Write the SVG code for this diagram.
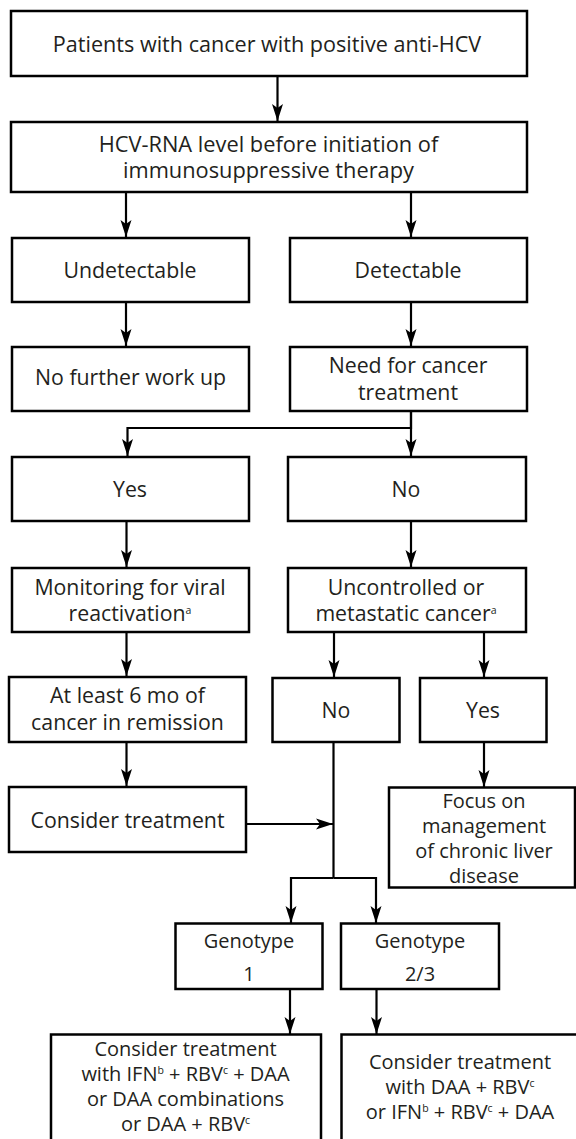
<svg xmlns="http://www.w3.org/2000/svg" width="576" height="1139" viewBox="0 0 576 1139">
<style>
.box{fill:#fff;stroke:#000;stroke-width:2.5}
.t{font-family:"Open Sans","Noto Sans","DejaVu Sans",sans-serif;font-size:21.3px;fill:#231f20;text-anchor:middle}
.s{font-size:20px}
.sup{font-size:10.5px}
.c{fill:none;stroke:#000;stroke-width:2.2}
.a{marker-end:url(#ah)}
</style>
<defs>
<marker id="ah" viewBox="0 0 17 12" markerUnits="userSpaceOnUse" markerWidth="17" markerHeight="12" refX="17" refY="6" orient="auto">
<path d="M17,6 L0,0.5 L4,6 L0,11.5 Z" fill="#000"/>
</marker>
</defs>
<rect width="576" height="1139" fill="#fff"/>
<g id="connectors">
<line class="c a" x1="277.5" y1="76" x2="277.5" y2="121"/>
<line class="c a" x1="126" y1="192" x2="126" y2="237"/>
<line class="c a" x1="411" y1="192" x2="411" y2="237"/>
<line class="c a" x1="126" y1="302" x2="126" y2="346"/>
<line class="c a" x1="411" y1="302" x2="411" y2="346"/>
<polyline class="c a" points="411,411 411,428 127.5,428 127.5,456"/>
<line class="c a" x1="411" y1="411" x2="411" y2="456"/>
<line class="c a" x1="126.5" y1="521" x2="126.5" y2="567"/>
<line class="c a" x1="411" y1="521" x2="411" y2="567"/>
<line class="c a" x1="126.5" y1="632" x2="126.5" y2="676"/>
<line class="c a" x1="334" y1="632" x2="334" y2="677"/>
<line class="c a" x1="484" y1="632" x2="484" y2="677"/>
<line class="c a" x1="126.5" y1="742" x2="126.5" y2="786"/>
<line class="c a" x1="246" y1="824" x2="333" y2="824"/>
<polyline class="c" points="333.5,742 333.5,878"/>
<polyline class="c a" points="333.5,878 291,878 291,923"/>
<polyline class="c a" points="333.5,878 376,878 376,923"/>
<line class="c a" x1="484" y1="742" x2="484" y2="787"/>
<line class="c a" x1="290" y1="989" x2="290" y2="1034"/>
<line class="c a" x1="376.5" y1="989" x2="376.5" y2="1034"/>
</g>
<g id="n1"><rect class="box" x="11" y="11" width="516" height="65"/>
<text class="t" x="267" y="52" style="font-size:21.6px">Patients with cancer with positive anti-HCV</text></g>
<g id="n2"><rect class="box" x="11" y="122" width="516" height="70"/>
<text class="t" x="268.5" y="152" style="font-size:21.8px">HCV-RNA level before initiation of</text>
<text class="t" x="268.5" y="178" style="font-size:21.8px">immunosuppressive therapy</text></g>
<g id="n3"><rect class="box" x="12" y="238" width="237" height="64"/>
<text class="t" x="130" y="277.5">Undetectable</text></g>
<g id="n4"><rect class="box" x="290" y="238" width="237" height="64"/>
<text class="t" x="408" y="277.5">Detectable</text></g>
<g id="n5"><rect class="box" x="12" y="347" width="237" height="64"/>
<text class="t" x="130.5" y="385">No further work up</text></g>
<g id="n6"><rect class="box" x="290" y="347" width="237" height="64"/>
<text class="t" x="408" y="373">Need for cancer</text>
<text class="t" x="408" y="400">treatment</text></g>
<g id="n7"><rect class="box" x="12" y="457" width="237" height="64"/>
<text class="t" x="130" y="496.5">Yes</text></g>
<g id="n8"><rect class="box" x="288" y="457" width="238" height="64"/>
<text class="t" x="406" y="496.5">No</text></g>
<g id="n9"><rect class="box" x="12" y="568" width="237" height="64"/>
<text class="t" x="130" y="595">Monitoring for viral</text>
<text class="t" x="130" y="621">reactivation<tspan class="sup" dy="-7">a</tspan></text></g>
<g id="n10"><rect class="box" x="288" y="568" width="238" height="64"/>
<text class="t" x="406" y="595">Uncontrolled or</text>
<text class="t" x="406" y="621">metastatic cancer<tspan class="sup" dy="-7">a</tspan></text></g>
<g id="n11"><rect class="box" x="9" y="677" width="237" height="65"/>
<text class="t" x="127.5" y="703">At least 6 mo of</text>
<text class="t" x="127.5" y="730">cancer in remission</text></g>
<g id="n12"><rect class="box" x="272.5" y="678" width="127" height="64"/>
<text class="t" x="336" y="717.5">No</text></g>
<g id="n13"><rect class="box" x="420" y="678" width="126.5" height="64"/>
<text class="t" x="483" y="717.5">Yes</text></g>
<g id="n14"><rect class="box" x="9" y="787" width="237" height="65"/>
<text class="t" x="127.5" y="828">Consider treatment</text></g>
<g id="n15"><rect class="box" x="389" y="787.5" width="186" height="100"/>
<text class="t s" x="484" y="807.5">Focus on</text>
<text class="t s" x="484" y="832.5">management</text>
<text class="t s" x="484" y="858">of chronic liver</text>
<text class="t s" x="484" y="882.5">disease</text></g>
<g id="n16"><rect class="box" x="175.5" y="923.5" width="147" height="65.5"/>
<text class="t s" x="249" y="948">Genotype</text>
<text class="t s" x="249" y="980.5">1</text></g>
<g id="n17"><rect class="box" x="341" y="923.5" width="158" height="65.5"/>
<text class="t s" x="420" y="948">Genotype</text>
<text class="t s" x="420" y="980.5">2/3</text></g>
<g id="n18"><rect class="box" x="51" y="1034.5" width="270" height="120"/>
<text class="t s" x="185.5" y="1055.5">Consider treatment</text>
<text class="t s" x="185.5" y="1080.5">with IFN<tspan class="sup" dy="-7">b</tspan><tspan dy="7"> + RBV</tspan><tspan class="sup" dy="-7">c</tspan><tspan dy="7"> + DAA</tspan></text>
<text class="t s" x="185.5" y="1106">or DAA combinations</text>
<text class="t s" x="185.5" y="1131">or DAA + RBV<tspan class="sup" dy="-7">c</tspan></text></g>
<g id="n19"><rect class="box" x="341.5" y="1034.5" width="250" height="120"/>
<text class="t s" x="460" y="1069">Consider treatment</text>
<text class="t s" x="460" y="1094">with DAA + RBV<tspan class="sup" dy="-7">c</tspan></text>
<text class="t s" x="460" y="1119">or IFN<tspan class="sup" dy="-7">b</tspan><tspan dy="7"> + RBV</tspan><tspan class="sup" dy="-7">c</tspan><tspan dy="7"> + DAA</tspan></text></g>
</svg>
